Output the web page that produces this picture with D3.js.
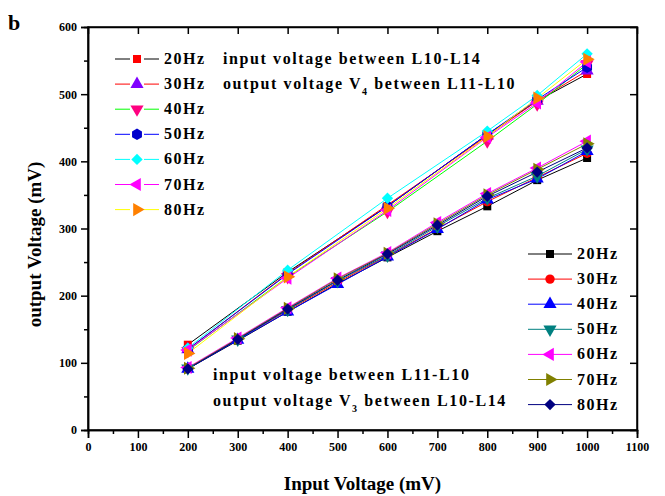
<!DOCTYPE html>
<html>
<head>
<meta charset="utf-8">
<script src="https://cdn.jsdelivr.net/npm/d3@7"></script>
<style>
  body { margin: 0; background: #fff; }
  svg { display: block; font-family: 'Liberation Serif', 'Times New Roman', serif; font-weight: bold; }
</style>
</head>
<body>
<div id="chart"></div>
<script>
// Data (mV)
const freqs = ['20Hz', '30Hz', '40Hz', '50Hz', '60Hz', '70Hz', '80Hz'];

// V4 group: input between L10-L14, output between L11-L10
const inputV4 = [200, 400, 600, 800, 900, 1000];
const v4_20 = [127, 235, 333, 440, 490, 530];
const v4_30 = [120, 233, 335, 438, 490, 535];
const v4_40 = [118, 228, 325, 430, 485, 545];
const v4_50 = [120, 232, 333, 440, 492, 540];
const v4_60 = [122, 238, 345, 445, 498, 560];
const v4_70 = [119, 226, 327, 436, 487, 548];
const v4_80 = [114, 228, 330, 437, 494, 552];

// V3 group: input between L11-L10, output between L10-L14
const inputV3 = [200, 300, 400, 500, 600, 700, 800, 900, 1000];
const v3_20 = [91, 133, 176, 218, 257, 296, 333, 372, 405];
const v3_30 = [92, 135, 178, 220, 259, 300, 340, 376, 412];
const v3_40 = [91, 134, 176, 217, 258, 299, 343, 374, 415];
const v3_50 = [92, 135, 179, 222, 260, 303, 345, 378, 418];
const v3_60 = [93, 137, 182, 226, 264, 309, 352, 390, 430];
const v3_70 = [92, 136, 181, 225, 263, 307, 350, 388, 426];
const v3_80 = [91, 135, 180, 223, 262, 305, 348, 384, 420];

const xTicks = [0, 100, 200, 300, 400, 500, 600, 700, 800, 900, 1000, 1100];
const yTicks = [0, 100, 200, 300, 400, 500, 600];

// styles per series
const hexagon = {
  draw(ctx, size) {
    const r = Math.sqrt(size / 2.6);
    for (let i = 0; i < 6; i++) {
      const a = Math.PI / 6 + i * Math.PI / 3;
      i ? ctx.lineTo(r * Math.cos(a), r * Math.sin(a)) : ctx.moveTo(r * Math.cos(a), r * Math.sin(a));
    }
    ctx.closePath();
  }
};

const v4Style = [
  { line: '#000000', fill: '#ff0000', type: d3.symbolSquare, rot: 0, size: 64 },
  { line: '#ff0000', fill: '#8000ff', type: d3.symbolTriangle, rot: 0, size: 75 },
  { line: '#00ff00', fill: '#ff0080', type: d3.symbolTriangle, rot: 180, size: 75 },
  { line: '#0000ff', fill: '#0000cc', type: hexagon, rot: 0, size: 85 },
  { line: '#00ffff', fill: '#00ffff', type: d3.symbolSquare, rot: 45, size: 64 },
  { line: '#ff00ff', fill: '#ff00ff', type: d3.symbolTriangle, rot: -90, size: 75 },
  { line: '#ffff00', fill: '#ff8000', type: d3.symbolTriangle, rot: 90, size: 75 },
];
const v3Style = [
  { line: '#000000', fill: '#000000', type: d3.symbolSquare, rot: 0, size: 64 },
  { line: '#ff0000', fill: '#ff0000', type: d3.symbolCircle, rot: 0, size: 70 },
  { line: '#0000ff', fill: '#0000ff', type: d3.symbolTriangle, rot: 0, size: 75 },
  { line: '#008080', fill: '#008080', type: d3.symbolTriangle, rot: 180, size: 75 },
  { line: '#ff00ff', fill: '#ff00ff', type: d3.symbolTriangle, rot: -90, size: 75 },
  { line: '#808000', fill: '#808000', type: d3.symbolTriangle, rot: 90, size: 75 },
  { line: '#000080', fill: '#000080', type: d3.symbolSquare, rot: 45, size: 64 },
];

const v4Series = [v4_20, v4_30, v4_40, v4_50, v4_60, v4_70, v4_80];
const v3Series = [v3_20, v3_30, v3_40, v3_50, v3_60, v3_70, v3_80];

const width = 665;
const height = 496;
const margin = { left: 88, right: 28, top: 27, bottom: 66 };
const w = width - margin.left - margin.right;
const h = height - margin.top - margin.bottom;

const svg = d3.select('#chart').append('svg')
  .attr('width', width)
  .attr('height', height);

const g = svg.append('g')
  .attr('transform', `translate(${margin.left} ${margin.top})`);

const x = d3.scaleLinear().domain([0, 1100]).range([0, w]);
const y = d3.scaleLinear().domain([0, 600]).range([h, 0]);

const minorX = d3.range(50, 1100, 100);
const minorY = d3.range(50, 600, 100);

// frame
g.append('rect')
  .attr('width', w).attr('height', h)
  .attr('fill', 'none').attr('stroke', '#000').attr('stroke-width', 1.5);

// bottom axis
g.append('g')
  .attr('transform', `translate(0, ${h})`)
  .call(d3.axisBottom(x).tickValues(xTicks).tickSize(8).tickPadding(4).tickFormat(d3.format('d')));
g.append('g')
  .attr('transform', `translate(0, ${h})`)
  .call(d3.axisBottom(x).tickValues(minorX).tickSize(4).tickFormat(''));

// left axis
g.append('g')
  .call(d3.axisLeft(y).tickValues(yTicks).tickSize(7).tickPadding(4).tickFormat(d3.format('d')));
g.append('g')
  .call(d3.axisLeft(y).tickValues(minorY).tickSize(4).tickFormat(''));

// top and right inward ticks
g.append('g')
  .call(d3.axisTop(x).tickValues(xTicks.slice(1, -1)).tickSize(-7).tickFormat(''));
g.append('g')
  .attr('transform', `translate(${w}, 0)`)
  .call(d3.axisRight(y).tickValues(yTicks.slice(1, -1)).tickSize(-7).tickFormat(''));

g.selectAll('.domain').attr('stroke-width', 1.5);
g.selectAll('.tick line').attr('stroke-width', 1.5);
g.selectAll('.tick text')
  .attr('font-family', "'Liberation Serif', serif")
  .attr('font-weight', 'bold')
  .attr('font-size', '12px')
  .attr('fill', '#000');

// lines
const line = (xs) => d3.line()
  .x((d, i) => x(xs[i]))
  .y((d) => y(d));

const symbol = (s) => d3.symbol().type(s.type).size(s.size)();

function drawGroup(xs, series, styles) {
  series.forEach((vals, k) => {
    g.append('path')
      .attr('d', line(xs)(vals))
      .attr('fill', 'none')
      .attr('stroke', styles[k].line)
      .attr('stroke-width', 1);
  });
  series.forEach((vals, k) => {
    const s = styles[k];
    g.append('g').selectAll('path')
      .data(vals)
      .join('path')
      .attr('d', symbol(s))
      .attr('transform', (d, i) => `translate(${x(xs[i])},${y(d)}) rotate(${s.rot})`)
      .attr('fill', s.fill);
  });
}

drawGroup(inputV4, v4Series, v4Style);
drawGroup(inputV3, v3Series, v3Style);

// legends
function legend(x0, y0, dy, styles, gap) {
  const lg = svg.append('g').attr('transform', `translate(${x0}, ${y0})`);
  styles.forEach((s, k) => {
    const row = lg.append('g').attr('transform', `translate(0, ${k * dy})`);
    if (gap) {
      row.append('line').attr('x1', 0).attr('x2', 15).attr('stroke', s.line);
      row.append('line').attr('x1', 29).attr('x2', 44).attr('stroke', s.line);
    } else {
      row.append('line').attr('x1', 0).attr('x2', 44).attr('stroke', s.line);
    }
    row.append('path')
      .attr('d', symbol(s))
      .attr('transform', `translate(22, 0) rotate(${s.rot})`)
      .attr('fill', s.fill);
    row.append('text')
      .attr('x', 49)
      .attr('y', 5)
      .attr('font-size', '16px')
      .attr('letter-spacing', '1.5px')
      .text(freqs[k]);
  });
}

legend(115, 59, 25.1, v4Style, true);
legend(528, 254, 25.1, v3Style, false);

// annotations
function note(x0, y0, parts) {
  const t = svg.append('text')
    .attr('x', x0).attr('y', y0)
    .attr('font-size', '16px')
    .attr('letter-spacing', '1.6px');
  parts.forEach((p) => {
    const sp = t.append('tspan').text(p.t);
    if (p.sub) sp.attr('font-size', '10px').attr('dy', 6);
    if (p.up) sp.attr('dy', -6);
  });
}

note(223, 64, [{ t: 'input voltage between L10-L14' }]);
note(223, 89, [{ t: 'output voltage V' }, { t: '4', sub: true }, { t: ' between L11-L10', up: true }]);
note(213, 380, [{ t: 'input voltage between L11-L10' }]);
note(213, 406, [{ t: 'output voltage V' }, { t: '3', sub: true }, { t: ' between L10-L14', up: true }]);

// titles
svg.append('text')
  .attr('x', 8).attr('y', 30)
  .attr('font-size', '22px')
  .text('b');

svg.append('text')
  .attr('x', margin.left + w / 2)
  .attr('y', 490)
  .attr('text-anchor', 'middle')
  .attr('font-size', '19px')
  .text('Input Voltage (mV)');

svg.append('text')
  .attr('transform', `translate(41, ${margin.top + h / 2 + 16}) rotate(-90)`)
  .attr('text-anchor', 'middle')
  .attr('font-size', '19px')
  .text('output Voltage (mV)');
</script>
</body>
</html>
